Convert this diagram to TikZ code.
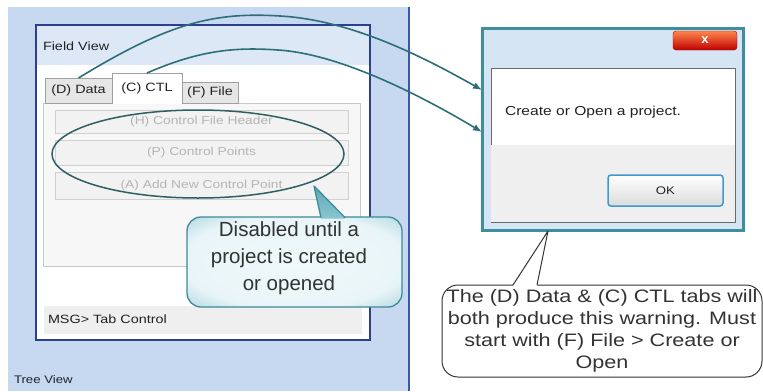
\documentclass[tikz,border=0pt]{standalone}
\usepackage{fontspec}
\setmainfont{Liberation Sans}
\newfontfamily\wide[FakeStretch=1.2]{Liberation Sans}
\usetikzlibrary{arrows.meta,shapes.geometric}
\definecolor{panelblue}{HTML}{C6D9F1}
\definecolor{paneledge}{HTML}{3A58A8}
\definecolor{winblue}{HTML}{2B3F8C}
\definecolor{titleblue}{HTML}{DCE8F6}
\definecolor{tabline}{HTML}{A0A0A0}
\definecolor{tabgrey}{HTML}{E6E6E6}
\definecolor{panelline}{HTML}{C8C8C8}
\definecolor{panelfill}{HTML}{F7F7F7}
\definecolor{btnline}{HTML}{D0D0D0}
\definecolor{btnfill}{HTML}{F2F2F2}
\definecolor{btntext}{HTML}{B4B4B4}
\definecolor{statusgrey}{HTML}{EFEFEF}
\definecolor{ellline}{HTML}{2F5E63}
\definecolor{cline}{HTML}{3E8A9A}
\definecolor{cptr}{HTML}{8AC5D1}
\definecolor{cptrtop}{HTML}{5FA8B8}
\definecolor{arrteal}{HTML}{2E6E7A}
\definecolor{dlgteal}{HTML}{3E8E9E}
\definecolor{dlgtitle}{HTML}{D6E5F4}
\definecolor{dlginner}{HTML}{6A6A6A}
\definecolor{dlggrey}{HTML}{EFEFEF}
\definecolor{okblue}{HTML}{3C9AD0}
\definecolor{ctwo}{HTML}{333333}
\definecolor{txt}{HTML}{222222}
\pgfdeclareradialshading{calshade}{\pgfpoint{0bp}{0bp}}{rgb(0bp)=(0.94,0.975,0.98); rgb(26bp)=(0.91,0.96,0.97); rgb(44bp)=(0.52,0.76,0.81); rgb(50bp)=(0.44,0.70,0.76)}
\begin{document}
\begin{tikzpicture}[x=1pt,y=-1pt,
  every node/.style={inner sep=0pt, outer sep=0pt},
  sz/.style 2 args={minimum width=#1pt, minimum height=#2pt},
  tabbox/.style={draw=tabline, fill=tabgrey, text=txt, font=\wide\fontsize{12}{14}\selectfont},
  btn/.style={draw=btnline, fill=btnfill, text=btntext, font=\wide\fontsize{11.5}{13}\selectfont},
  conn/.style={draw=arrteal, line width=1.6pt, -{Latex[length=9pt,width=7pt]}},
  lbl/.style={text=txt, anchor=west}
]
\useasboundingbox (0,0) rectangle (763,391);
% background panel
\fill[panelblue] (8,7) rectangle (410,391);
\draw[paneledge, line width=1.2pt] (409,7) -- (409,391);
% window
\node[draw=winblue, line width=1.3pt, fill=titleblue, sz={334}{315}, anchor=north west] (win) at (36,25) {};
\fill[white] (36.7,65) rectangle (369.3,339.3);
\node[lbl, font=\wide\fontsize{12}{14}\selectfont] (wtitle) at (43,46) {Field View};
% tab panel and tabs
\node[draw=panelline, fill=panelfill, sz={317}{163}, anchor=north west] (tabpanel) at (43,103) {};
\node[tabbox, sz={67}{25}, anchor=north west] (tabD) at (45,78) {(D) Data};
\node[tabbox, sz={56}{21}, anchor=north west] (tabF) at (182,82) {(F) File};
\node[fill=white, text=txt, font=\wide\fontsize{12}{14}\selectfont, sz={70}{31}, anchor=north west] (tabC) at (112,73) {(C) CTL};
\draw[tabline] (tabC.south west) -- (tabC.north west) -- (tabC.north east) -- (tabC.south east);
% buttons
\node[btn, sz={293}{23}] (bH) at (201.5,121.5) {(H) Control File Header};
\node[btn, sz={293}{25}] (bP) at (201.5,152.5) {(P) Control Points};
\node[btn, sz={293}{27}] (bA) at (201.5,186) {(A) Add New Control Point};
% status bar
\node[fill=statusgrey, sz={318}{28}, anchor=north west] (status) at (44,306) {};
\node[lbl, font=\wide\fontsize{12}{14}\selectfont] (msg) at (48,319) {MSG> Tab Control};
\node[lbl, font=\wide\fontsize{11}{13}\selectfont] (tree) at (14,380) {Tree View};
% ellipse
\node[ellipse, draw=ellline, line width=1.5pt, sz={292}{88}] (ell) at (198,154) {};
% callout 1
\node[draw=cline, line width=1.3pt, rounded corners=14pt, shade, shading=calshade, sz={215}{90}, anchor=north west] (cal1) at (187,217) {};
\coordinate (tip1) at (314,186);
\shade[top color=cptrtop, bottom color=cptr] (321,218.5) -- (tip1) -- (345,218.5) -- cycle;
\draw[cline, line width=1.3pt, line join=round] (321,217.6) -- (tip1) -- (345,217.6);
\node[text=ctwo, align=center, font=\fontsize{20.5}{27}\selectfont] (cal1text) at (289,258) {Disabled until a\\project is created\\or opened};
% dialog
\node[draw=dlgteal, line width=3pt, fill=dlgtitle, sz={261}{202}, anchor=north west] (dlg) at (482,28) {};
\node[draw=dlginner, line width=0.8pt, fill=white, sz={244}{154}, anchor=north west] (dlgbody) at (491,68) {};
\fill[dlggrey] (491.4,145) rectangle (734.6,221.6);
\node[lbl, font=\wide\fontsize{13}{15}\selectfont] (dlgmsg) at (505,112) {Create or Open a project.};
\node[draw=red!60!black, top color=red!35!orange!70, bottom color=red!75!black, rounded corners=3pt, sz={64}{19}, anchor=north west, text=white, font=\bfseries\fontsize{13}{13}\selectfont] (close) at (673,31) {x};
\node[draw=okblue, line width=1.5pt, rounded corners=3pt, top color=white, bottom color=black!14, sz={115}{31}, anchor=north west, text=txt, font=\wide\fontsize{11}{13}\selectfont] (ok) at (608,175) {OK};
% arrows
\coordinate (tA) at (482,90);
\coordinate (tB) at (482,132);
\draw[conn] (tabD.north) .. controls (170,22) and (215,12) .. (280,16) .. controls (350,20) and (420,55) .. (tA);
\draw[conn] (tabC.north) .. controls (200,50) and (235,47) .. (278,50) .. controls (340,54) and (420,95) .. (tB);
% callout 2
\node[draw=ctwo, line width=1pt, fill=white, rounded corners=16pt, sz={320}{92}, anchor=north west] (cal2) at (442,285) {};
\coordinate (tip2) at (548,231);
\fill[white] (513,286) -- (tip2) -- (537,286) -- cycle;
\draw[ctwo, line width=1pt, line join=round] (513,285) -- (tip2) -- (537,285);
\node[text=ctwo, align=center, font=\wide\fontsize{18}{22}\selectfont] (cal2text) at (602,331) {The (D) Data \& (C) CTL tabs will\\both produce this warning. Must\\start with (F) File > Create or\\Open};
\end{tikzpicture}
\end{document}
